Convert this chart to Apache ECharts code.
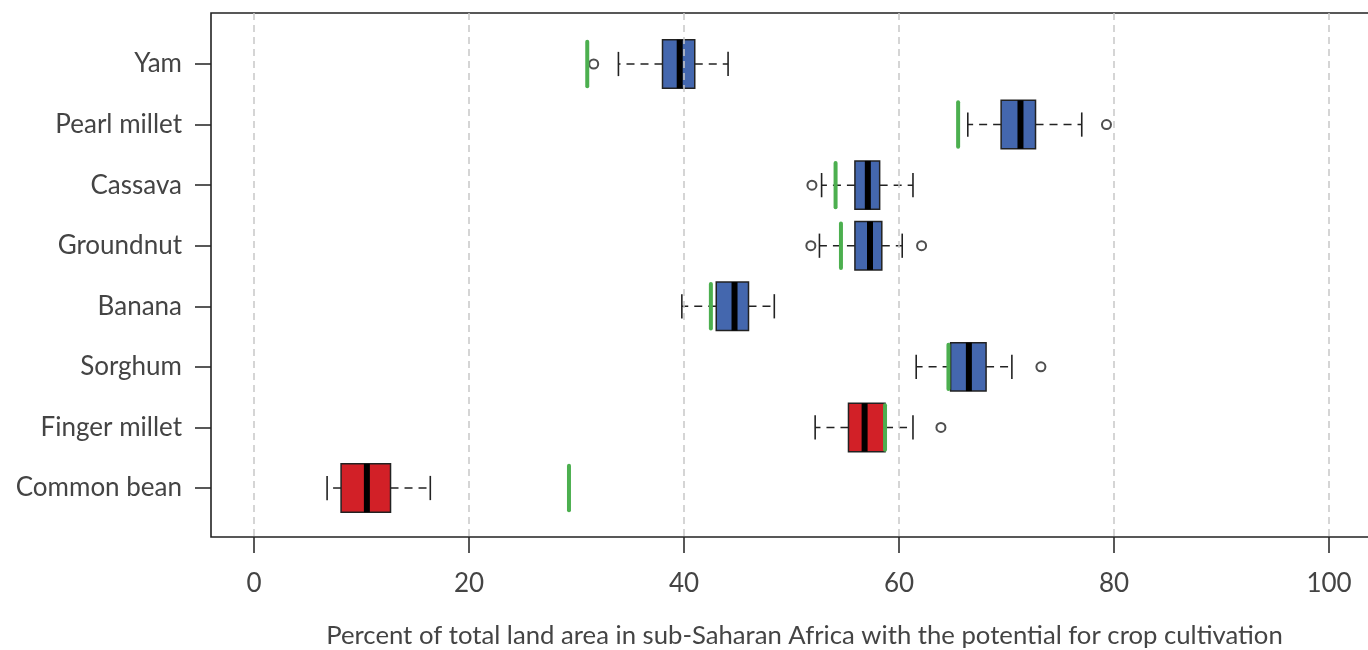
<!DOCTYPE html>
<html>
<head>
<meta charset="utf-8">
<script src="https://cdn.jsdelivr.net/npm/echarts@6/dist/echarts.min.js"></script>
<style>
  html, body { margin: 0; padding: 0; background: #fff; overflow: hidden; }
  #chart { width: 1380px; height: 650px; }
</style>
</head>
<body>
<div id="chart"></div>
<script>
// Crops, top to bottom
var categories = ['Yam', 'Pearl millet', 'Cassava', 'Groundnut', 'Banana', 'Sorghum', 'Finger millet', 'Common bean'];

// Box-and-whisker summary per crop (percent of land area)
var lowerWhisker = [33.9, 66.4, 52.8, 52.6, 39.8, 61.6, 52.2, 6.8];
var lowerQuartile = [38.0, 69.5, 55.9, 55.9, 43.0, 64.8, 55.3, 8.1];
var medians = [39.6, 71.3, 57.1, 57.3, 44.7, 66.5, 56.8, 10.5];
var upperQuartile = [41.0, 72.7, 58.2, 58.4, 46.0, 68.1, 58.7, 12.7];
var upperWhisker = [44.1, 77.0, 61.3, 60.3, 48.4, 70.5, 61.3, 16.4];

// Points beyond the whiskers: [crop, value]
var outliers = [
  ['Yam', 31.6],
  ['Pearl millet', 79.3],
  ['Cassava', 51.9],
  ['Groundnut', 51.8],
  ['Groundnut', 62.1],
  ['Sorghum', 73.2],
  ['Finger millet', 63.9]
];

// Reference value for each crop (green marker)
var referenceValues = [31.0, 65.5, 54.1, 54.6, 42.5, 64.6, 58.7, 29.3];

// Box fill group per crop
var boxGroup = ['blue', 'blue', 'blue', 'blue', 'blue', 'blue', 'red', 'red'];

// X axis ticks
var xTicks = [0, 20, 40, 60, 80, 100];

var axisTitle = 'Percent of total land area in sub-Saharan Africa with the potential for crop cultivation';

var FONT = 'Lato';
var TEXT_COLOR = '#444';
var INK = '#222';
var FILL = { blue: '#4467ae', red: '#d22027' };
var GREEN = '#4caf4f';
var XMIN = -4, XMAX = 104;

var boxData = categories.map(function (c, i) {
  return [i, lowerWhisker[i], lowerQuartile[i], medians[i], upperQuartile[i], upperWhisker[i]];
});
var refData = categories.map(function (c, i) { return [i, referenceValues[i]]; });
var outlierData = outliers.map(function (o) { return [o[1], o[0]]; });

function renderBox(params, api) {
  var cat = api.value(0);
  var lw = api.value(1), q1 = api.value(2), md = api.value(3), q3 = api.value(4), uw = api.value(5);
  var band = api.size([0, 1])[1];
  var half = band * 0.4;
  var cap = band * 0.2;
  var pLw = api.coord([lw, cat]);
  var pQ1 = api.coord([q1, cat]);
  var pMd = api.coord([md, cat]);
  var pQ3 = api.coord([q3, cat]);
  var pUw = api.coord([uw, cat]);
  var y = pMd[1];
  var color = FILL[boxGroup[params.dataIndex]];
  var dash = { stroke: INK, lineWidth: 1.5, lineDash: [8, 6] };
  var solid = { stroke: INK, lineWidth: 1.6 };
  return {
    type: 'group',
    children: [
      { type: 'line', shape: { x1: pQ1[0], y1: y, x2: pLw[0], y2: y }, style: dash },
      { type: 'line', shape: { x1: pQ3[0], y1: y, x2: pUw[0], y2: y }, style: dash },
      { type: 'line', shape: { x1: pLw[0], y1: y - cap, x2: pLw[0], y2: y + cap }, style: solid },
      { type: 'line', shape: { x1: pUw[0], y1: y - cap, x2: pUw[0], y2: y + cap }, style: solid },
      {
        type: 'rect',
        shape: { x: pQ1[0], y: y - half, width: pQ3[0] - pQ1[0], height: half * 2 },
        style: { fill: color, stroke: INK, lineWidth: 1.5 }
      },
      { type: 'line', shape: { x1: pMd[0], y1: y - half, x2: pMd[0], y2: y + half }, style: { stroke: '#000', lineWidth: 6 } }
    ]
  };
}

function renderReference(params, api) {
  var cat = api.value(0);
  var band = api.size([0, 1])[1];
  var half = band * 0.4;
  var p = api.coord([api.value(1), cat]);
  return {
    type: 'line',
    shape: { x1: p[0], y1: p[1] - half + 2, x2: p[0], y2: p[1] + half - 2 },
    style: { stroke: GREEN, lineWidth: 4, lineCap: 'round' }
  };
}

function renderGridLine(params, api) {
  var v = api.value(0);
  var top = api.coord([v, 1]);
  var bottom = api.coord([v, 0]);
  return {
    type: 'line',
    shape: { x1: top[0], y1: top[1], x2: bottom[0], y2: bottom[1] },
    style: { stroke: '#c8c8c8', lineWidth: 1.5, lineDash: [7, 5] }
  };
}

var chart = echarts.init(document.getElementById('chart'), null, { renderer: 'canvas' });

chart.setOption({
  animation: false,
  backgroundColor: '#fff',
  textStyle: { fontFamily: FONT },
  grid: [
    { left: 211, top: 13, width: 1161, height: 524, show: true, borderColor: INK, borderWidth: 1.6, backgroundColor: 'transparent' },
    { left: 211, top: 33.7, width: 1161, height: 484.6, show: false }
  ],
  xAxis: [
    {
      gridIndex: 0, type: 'value', min: XMIN, max: XMAX,
      axisLine: { show: false, onZero: false },
      axisTick: { show: true, length: 16, customValues: xTicks, lineStyle: { color: INK, width: 1.5 } },
      axisLabel: { show: true, customValues: xTicks, fontSize: 26, color: TEXT_COLOR, margin: 34, fontFamily: FONT },
      splitLine: { show: false }
    },
    { gridIndex: 1, type: 'value', min: XMIN, max: XMAX, show: false, axisLine: { onZero: false }, splitLine: { show: false } }
  ],
  yAxis: [
    { gridIndex: 0, type: 'value', min: 0, max: 1, show: false, axisLine: { onZero: false }, splitLine: { show: false } },
    {
      gridIndex: 1, type: 'category', data: categories, inverse: true, position: 'left',
      axisLine: { show: false, onZero: false },
      axisTick: { show: true, alignWithLabel: true, length: 16, lineStyle: { color: INK, width: 1.5 } },
      axisLabel: { fontSize: 26, color: TEXT_COLOR, margin: 29, fontFamily: FONT },
      splitLine: { show: false }
    }
  ],
  series: [
    {
      type: 'custom', name: 'boxes', xAxisIndex: 1, yAxisIndex: 1,
      renderItem: renderBox, data: boxData,
      encode: { y: 0, x: [1, 2, 3, 4, 5] }, z: 2
    },
    {
      type: 'scatter', name: 'outliers', xAxisIndex: 1, yAxisIndex: 1,
      data: outlierData, symbol: 'emptyCircle', symbolSize: 9,
      itemStyle: { color: INK, borderColor: INK, borderWidth: 1.5 }, z: 3
    },
    {
      type: 'custom', name: 'reference', xAxisIndex: 1, yAxisIndex: 1,
      renderItem: renderReference, data: refData,
      encode: { y: 0, x: 1 }, z: 4
    },
    {
      type: 'custom', name: 'grid', xAxisIndex: 0, yAxisIndex: 0,
      renderItem: renderGridLine, data: xTicks.map(function (v) { return [v]; }),
      encode: { x: 0 }, z: 5, silent: true
    }
  ],
  graphic: [
    {
      type: 'text', x: 804.5, y: 636, z: 10,
      style: { text: axisTitle, fontSize: 25.7, fontFamily: FONT, fill: TEXT_COLOR, align: 'center', verticalAlign: 'middle' }
    }
  ]
});
</script>
</body>
</html>
